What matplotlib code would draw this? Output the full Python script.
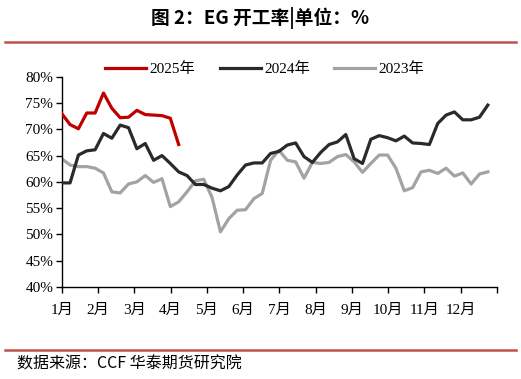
import numpy as np
import matplotlib
matplotlib.use("Agg")
import matplotlib.pyplot as plt
from matplotlib.lines import Line2D

plt.rcParams['font.family'] = ['Liberation Serif', 'Noto Sans CJK SC', 'DejaVu Sans']

# weekly EG operating rate (%)
y2025 = [73.0, 70.9, 70.1, 73.1, 73.1, 76.9, 74.0, 72.2, 72.3, 73.6, 72.8, 72.7, 72.6, 72.1, 67.1]
y2024 = [59.8, 59.8, 65.1, 65.9, 66.1, 69.2, 68.3, 70.8, 70.3, 66.3, 67.3, 64.1, 65.0, 63.5,
         61.9, 61.2, 59.5, 59.5, 58.8, 58.3, 59.1, 61.3, 63.2, 63.6, 63.6, 65.4, 65.8, 67.0,
         67.4, 64.8, 63.7, 65.6, 67.1, 67.6, 69.0, 64.4, 63.5, 68.1, 68.8, 68.4, 67.8, 68.7,
         67.4, 67.3, 67.1, 71.1, 72.7, 73.3, 71.8, 71.8, 72.3, 74.6]
y2023 = [64.4, 63.2, 62.9, 62.9, 62.6, 61.7, 58.1, 57.9, 59.6, 60.0, 61.2, 59.9, 60.6, 55.3,
         56.2, 58.1, 60.2, 60.5, 57.0, 50.5, 53.0, 54.6, 54.7, 56.8, 57.8, 64.1, 66.0, 64.1,
         63.8, 60.7, 63.7, 63.5, 63.7, 64.8, 65.2, 63.8, 61.8, 63.5, 65.1, 65.1, 62.6, 58.3,
         58.9, 61.9, 62.2, 61.6, 62.6, 61.1, 61.7, 59.6, 61.5, 61.9]
months = ["1月", "2月", "3月", "4月", "5月", "6月", "7月", "8月", "9月", "10月", "11月", "12月"]

fig = plt.figure(figsize=(5.21, 3.79), dpi=100)
ax = fig.add_axes([0.1184, 0.2427, 0.8356, 0.5549])

ax.plot(np.arange(len(y2023)), y2023, color='#A3A3A3', lw=2.3, label='2023年', zorder=2)
ax.plot(np.arange(len(y2024)), y2024, color='#2A2A2A', lw=2.3, label='2024年', zorder=3)
ax.plot(np.arange(len(y2025)), y2025, color='#C00000', lw=2.3, label='2025年', zorder=4)

xmax = 52.1
ax.set_xlim(0, xmax)
ax.set_ylim(40, 80)
ax.set_yticks(np.arange(40, 81, 5))
ax.set_yticklabels([f"{v}%" for v in range(40, 81, 5)], fontsize=11)
ticks = np.linspace(0, xmax, 13)
ax.set_xticks(ticks)
ax.set_xticklabels(months + [""], fontsize=11)
ax.tick_params(axis='x', direction='out', length=4, width=1, pad=8, colors='black')
ax.tick_params(axis='y', direction='out', length=4, width=1, pad=2, colors='black')
for s in ['top', 'right']:
    ax.spines[s].set_visible(False)
for s in ['left', 'bottom']:
    ax.spines[s].set_linewidth(1)
    ax.spines[s].set_color('black')

handles, labels = ax.get_legend_handles_labels()
order = [2, 1, 0]
ax.legend([handles[i] for i in order], [labels[i] for i in order], ncol=3, frameon=False,
          loc='center', bbox_to_anchor=(0.508, 0.818), bbox_transform=fig.transFigure,
          fontsize=11, handlelength=2.7, handletextpad=0.2, columnspacing=1.6)

fig.text(0.5, 1 - 18 / 379, "图 2：EG 开工率|单位：%", ha='center', va='center',
         fontsize=13.5, fontweight='bold', family=['Noto Sans CJK SC', 'DejaVu Sans'])
fig.add_artist(Line2D([5 / 521, 516 / 521], [1 - 41.5 / 379] * 2, color='#C0504D', lw=1.8))
fig.add_artist(Line2D([5 / 521, 516 / 521], [1 - 349.5 / 379] * 2, color='#C0504D', lw=1.8))
fig.text(17 / 521, 1 - 364 / 379, "数据来源：CCF 华泰期货研究院", ha='left', va='center',
         fontsize=11.5, family=['Noto Sans CJK SC', 'DejaVu Sans'])

fig.savefig("out.png", dpi=100)
